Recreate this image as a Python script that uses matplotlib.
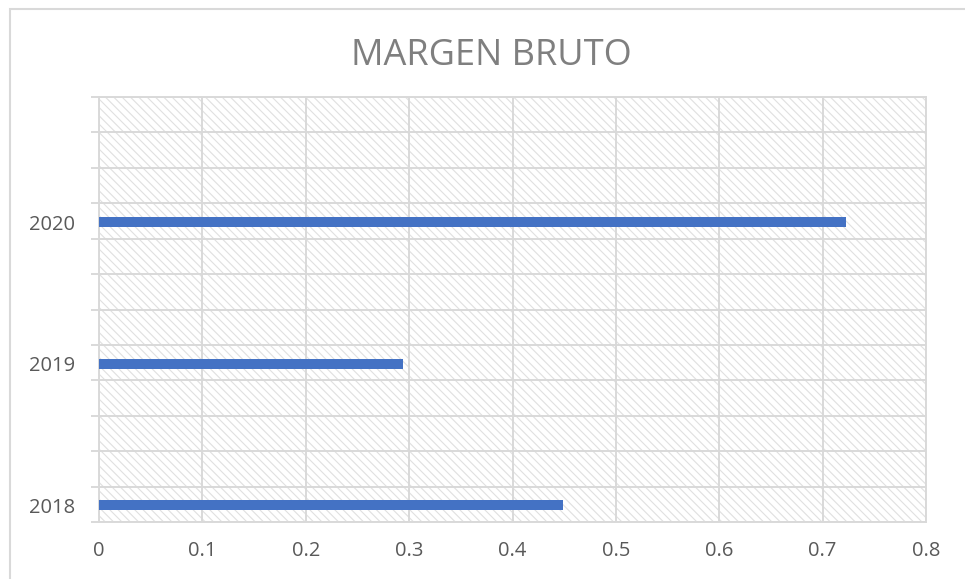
import matplotlib.pyplot as plt
from matplotlib.patches import Rectangle
import numpy as np

years = ["2018", "2019", "2020"]
margen = [0.449, 0.294, 0.723]

GRID = "#d9d9d9"
TEXT = "#595959"
SUB = 4  # gridline rows per category band

plt.rcParams["font.family"] = ["Open Sans", "DejaVu Sans"]
plt.rcParams["hatch.color"] = "#e0e0e0"
plt.rcParams["hatch.linewidth"] = 0.8

fig = plt.figure(figsize=(9.65, 5.79), dpi=100)
W, H = 965, 579

# outer chart frame
fig.patches.append(Rectangle((10 / W, -0.05), 1.0, 1 - 8.5 / H + 0.05, transform=fig.transFigure,
                             fill=False, edgecolor=GRID, linewidth=1.5))

ax = fig.add_axes([99 / W, (H - 522) / H, 827 / W, 425 / H])
ax.patch.set_facecolor("white")
ax.patch.set_hatch("\\\\\\\\")
ax.patch.set_edgecolor("#e0e0e0")

pos = np.arange(len(years)) * SUB + 0.47
ax.barh(pos, margen, height=0.29, color="#4472c4", zorder=3)

ax.set_xlim(0, 0.8)
ax.set_ylim(0, len(years) * SUB)
ax.set_xticks(np.arange(0, 0.81, 0.1))
ax.set_xticklabels(["0"] + [f"{v:.1f}" for v in np.arange(0.1, 0.81, 0.1)])
ax.set_yticks(np.arange(0, len(years) * SUB + 1))
ax.set_yticklabels([])
ax.set_yticks(pos, minor=True)
ax.set_yticklabels(years, minor=True)

ax.grid(True, color=GRID, linewidth=1.4, zorder=1)
ax.set_axisbelow(True)
for s in ax.spines.values():
    s.set_color(GRID)
    s.set_linewidth(1.4)

ax.tick_params(axis="y", which="major", length=6, color=GRID, width=1.4)
ax.tick_params(axis="y", which="minor", length=0, pad=17, labelsize=14.5, labelcolor=TEXT)
ax.tick_params(axis="x", length=0, pad=14, labelsize=14.5, labelcolor=TEXT)

fig.text(491 / W, 1 - 56 / H, "MARGEN BRUTO", ha="center", va="center", fontsize=26, color="#7f7f7f")

fig.savefig("out.png", dpi=100)
